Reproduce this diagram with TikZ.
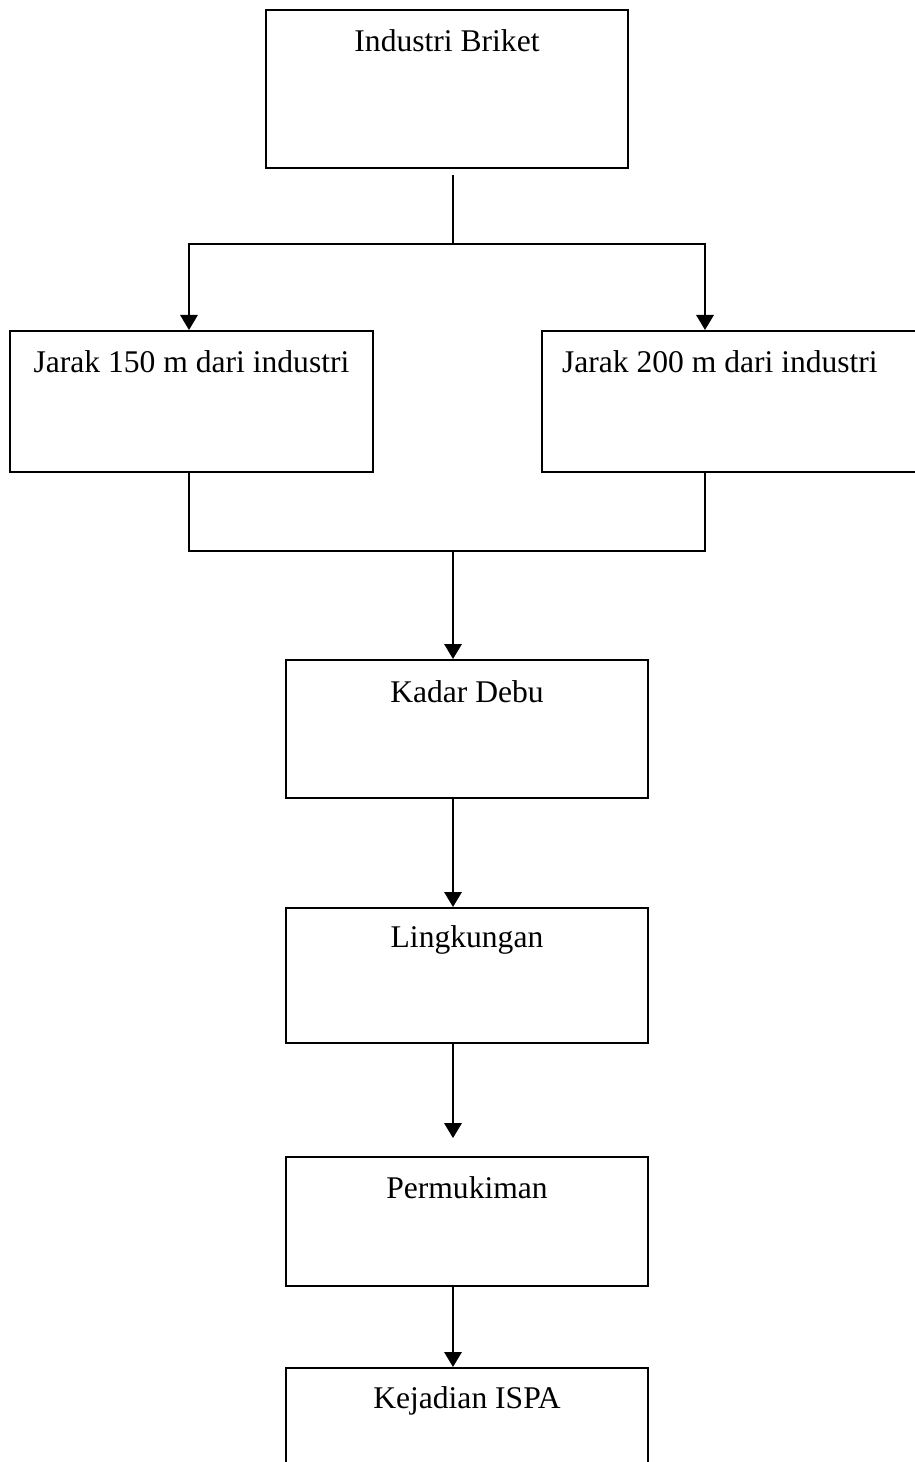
\documentclass[tikz,border=0pt]{standalone}
\usepackage{fontspec}
\setmainfont{Liberation Serif}
\usetikzlibrary{arrows.meta}
\newcommand{\pxu}{0.38pt}

\begin{document}
\begin{tikzpicture}[x=\pxu,y=-\pxu,>={Triangle[length=5.7pt,width=6.6pt]},line width=0.75pt,
    box/.style={draw,inner sep=0pt,minimum width={362*\pxu},anchor=north,font=\fontsize{12}{14}\selectfont}]
            \useasboundingbox (0,0) rectangle (914,1462);
            \node[box,text height={42*\pxu},text depth={116*\pxu}] (briket) at (447,9) {Industri Briket};
            \node[box,minimum width={363*\pxu},text height={42*\pxu},text depth={99*\pxu}] (jarak150) at (191.5,330) {Jarak 150 m dari industri};
            \node[box,text width={348*\pxu},inner xsep={20*\pxu},align=flush left,text height={42*\pxu},text depth={99*\pxu}] (jarak200) at (736,330) {Jarak 200 m dari industri};
            \node[box,text height={43*\pxu},text depth={95*\pxu}] (debu) at (467,659) {Kadar Debu};
            \node[box,text height={40*\pxu},text depth={95*\pxu}] (lingkungan) at (467,907) {Lingkungan};
            \node[box,text height={41*\pxu},text depth={88*\pxu}] (mukim) at (467,1156) {Permukiman};
            \node[box,text height={40*\pxu},text depth={150*\pxu}] (ispa) at (467,1367) {Kejadian ISPA};
            \coordinate (split) at (453,244);
            \coordinate (join) at (453,551);
            \coordinate (colL) at (189,0);
            \coordinate (colR) at (705,0);
            \draw (briket.south -| split) ++(0,6) -- (split);
            \draw [->] (split) -| (jarak150.north -| colL);
            \draw [->] (split) -| (jarak200.north -| colR);
            \draw (jarak150.south -| colL) |- (join) -| (jarak200.south -| colR);
            \draw [->] (join) -- (debu.north -| join);
            \draw [->] (debu.south -| join) -- (lingkungan.north -| join);
            \draw [->,shorten >=6.8pt] (lingkungan.south -| join) -- (mukim.north -| join);
            \draw [->] (mukim.south -| join) -- (ispa.north -| join);
        \end{tikzpicture}
\end{document}
